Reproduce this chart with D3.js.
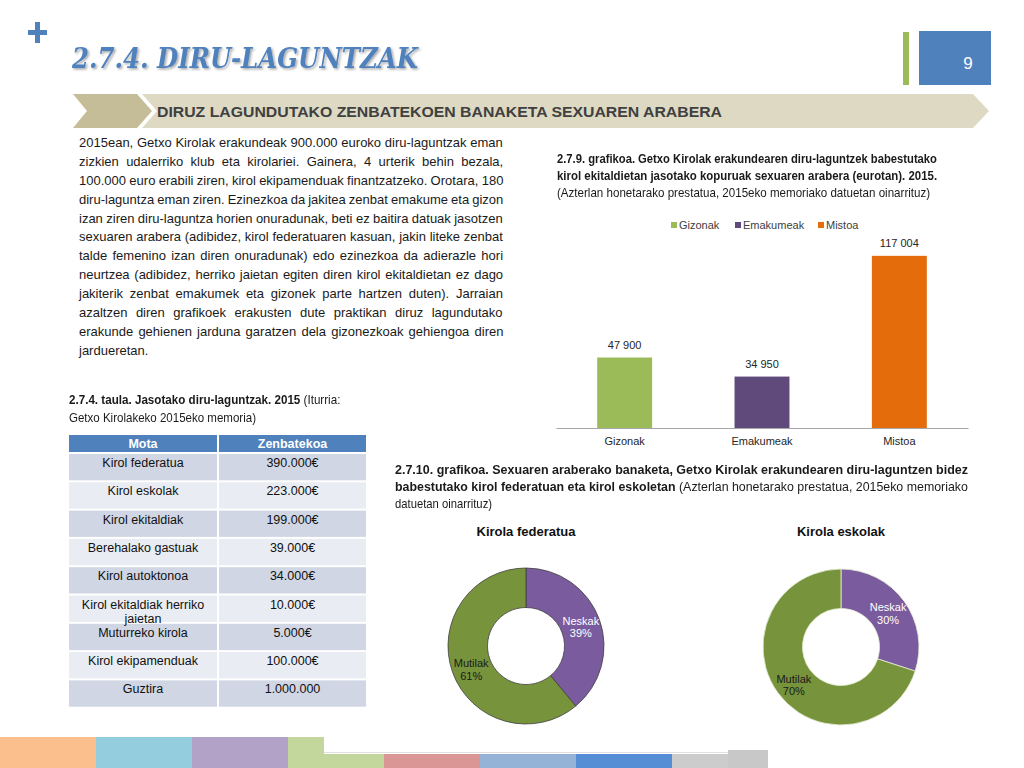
<!DOCTYPE html>
<html>
<head>
<meta charset="utf-8">
<script src="https://cdn.jsdelivr.net/npm/d3@7"></script>
<style>
  html, body { margin: 0; padding: 0; background: #fff; }
  #page { position: relative; width: 1024px; height: 768px; overflow: hidden; }
  svg { position: absolute; left: 0; top: 0; }
  .block { position: absolute; color: #1a1a1a; font-family: "Liberation Sans", Arial, sans-serif; }
  .line { white-space: nowrap; height: 1em; }
  .line span { display: inline-block; white-space: nowrap; transform-origin: 0 0; }
  .para { font-size: 13px; line-height: 18.9px; }
  .para .line { height: 18.9px; }
  .cap { font-size: 13px; line-height: 16.8px; }
  .cap .line { height: 16.8px; }
  b { font-weight: bold; }
</style>
</head>
<body>
<div id="page"></div>
<script>
// ---------- data ----------
const pageNumber = "9";
const titleText = "2.7.4. DIRU-LAGUNTZAK";
const bandText = "DIRUZ LAGUNDUTAKO ZENBATEKOEN BANAKETA SEXUAREN ARABERA";

const paragraphLines = [
  "2015ean, Getxo Kirolak erakundeak 900.000 euroko diru-laguntzak eman",
  "zizkien udalerriko klub eta kirolariei. Gainera, 4 urterik behin bezala,",
  "100.000 euro erabili ziren, kirol ekipamenduak finantzatzeko. Orotara, 180",
  "diru-laguntza eman ziren. Ezinezkoa da jakitea zenbat emakume eta gizon",
  "izan ziren diru-laguntza horien onuradunak, beti ez baitira datuak jasotzen",
  "sexuaren arabera (adibidez, kirol federatuaren kasuan, jakin liteke zenbat",
  "talde femenino izan diren onuradunak) edo ezinezkoa da adierazle hori",
  "neurtzea (adibidez, herriko jaietan egiten diren kirol ekitaldietan ez dago",
  "jakiterik zenbat emakumek eta gizonek parte hartzen duten). Jarraian",
  "azaltzen diren grafikoek erakusten dute praktikan diruz lagundutako",
  "erakunde gehienen jarduna garatzen dela gizonezkoak gehiengoa diren",
  "jardueretan."
];

const barCaptionLines = [
  "<b>2.7.9. grafikoa. Getxo Kirolak erakundearen diru-laguntzek babestutako</b>",
  "<b>kirol ekitaldietan jasotako kopuruak sexuaren arabera (eurotan). 2015.</b>",
  "(Azterlan honetarako prestatua, 2015eko memoriako datuetan oinarrituz)"
];
const barCaptionWidths = [380, 380, 373];
const donutCaptionLines = [
  "<b>2.7.10. grafikoa. Sexuaren araberako banaketa, Getxo Kirolak erakundearen diru-laguntzen bidez</b>",
  "<b>babestutako kirol federatuan eta kirol eskoletan</b> (Azterlan honetarako prestatua, 2015eko memoriako",
  "datuetan oinarrituz)"
];
const donutCaptionWidths = [573, 573, 97];
const tableCaptionLines = [
  "<b>2.7.4. taula. Jasotako diru-laguntzak. 2015</b> (Iturria:",
  "Getxo Kirolakeko 2015eko memoria)"
];
const tableCaptionWidths = [271, 187];

const barCategories = ["Gizonak", "Emakumeak", "Mistoa"];
const barValues = [47900, 34950, 117004];
const barValueLabels = ["47 900", "34 950", "117 004"];
const barColors = ["#9BBB59", "#604A7B", "#E46C0A"];

const tableHeaders = ["Mota", "Zenbatekoa"];
const tableTypes = ["Kirol federatua", "Kirol eskolak", "Kirol ekitaldiak", "Berehalako gastuak",
  "Kirol autoktonoa", "Kirol ekitaldiak herriko\njaietan", "Muturreko kirola", "Kirol ekipamenduak", "Guztira"];
const tableAmounts = ["390.000€", "223.000€", "199.000€", "39.000€", "34.000€", "10.000€", "5.000€", "100.000€", "1.000.000"];

const donutTitles = ["Kirola federatua", "Kirola eskolak"];
const donutGroups = ["Neskak", "Mutilak"];
const federatuaShares = [39, 61];
const eskolakShares = [30, 70];
const donutColors = ["#7A5C9E", "#77933C"];
const donutLabelColors = ["#ffffff", "#1a1a1a"];

const stripColors = ["#FBBF8E", "#94CDDD", "#B3A2C7", "#C3D69B", "#C3D69B", "#D99694", "#95B3D7", "#558ED5", "#CCCCCC", "#C8C8C8"];

// ---------- page ----------
const page = d3.select("#page");
const svg = page.append("svg").attr("width", 1024).attr("height", 768);

// plus sign
svg.append("rect").attr("x", 28).attr("y", 30).attr("width", 19).attr("height", 5).attr("fill", "#4F81BD");
svg.append("rect").attr("x", 35).attr("y", 22).attr("width", 5).attr("height", 21).attr("fill", "#4F81BD");

// title with shadow
const defs = svg.append("defs");
const f = defs.append("filter").attr("id", "shadow").attr("x", "-5%").attr("y", "-20%").attr("width", "110%").attr("height", "150%");
f.append("feDropShadow").attr("dx", 1.5).attr("dy", 1.5).attr("stdDeviation", 0.8).attr("flood-color", "#000").attr("flood-opacity", 0.35);
svg.append("text").attr("x", 72).attr("y", 68)
  .attr("font-family", "DejaVu Serif, serif").attr("font-weight", "bold").attr("font-style", "italic")
  .attr("font-size", 28).attr("fill", "#4F81BD").attr("filter", "url(#shadow)")
  .attr("textLength", 346).attr("lengthAdjust", "spacingAndGlyphs")
  .text(titleText);

// page number box
svg.append("rect").attr("x", 903).attr("y", 32).attr("width", 6).attr("height", 53).attr("fill", "#9BBB59");
svg.append("rect").attr("x", 919).attr("y", 31).attr("width", 72).attr("height", 54).attr("fill", "#4F81BD");
svg.append("text").attr("x", 968).attr("y", 69).attr("text-anchor", "middle")
  .attr("font-family", "Liberation Sans, Arial, sans-serif").attr("font-size", 17).attr("fill", "#fff").text(pageNumber);

// band
svg.append("polygon").attr("points", "142,94 973,94 989,111 973,128 142,128 157,111").attr("fill", "#DDD9C3");
svg.append("polygon").attr("points", "73,94 137,94 152,111 137,128 73,128 87,111").attr("fill", "#C4BD97");
svg.append("text").attr("x", 157).attr("y", 116.5)
  .attr("font-family", "Liberation Sans, Arial, sans-serif").attr("font-weight", "bold").attr("font-size", 15)
  .attr("textLength", 565).attr("lengthAdjust", "spacingAndGlyphs")
  .attr("fill", "#404040").text(bandText);

// ---------- text blocks ----------
function textBlock(cls, left, top, lines, html) {
  const div = page.append("div").attr("class", "block " + cls)
    .style("left", left + "px").style("top", top + "px");
  const spans = div.selectAll("div.line").data(lines).join("div").attr("class", "line")
    .append("span").each(function(d) { if (html) d3.select(this).html(d); else d3.select(this).text(d); });
  return spans;
}
// paragraph: justified through word spacing
const paraSpans = textBlock("para", 79, 134, paragraphLines, false);
paraSpans.each(function(d, i) {
  if (i === paragraphLines.length - 1) return;
  const w = this.offsetWidth;
  const spaces = (d.match(/ /g) || []).length;
  d3.select(this).style("word-spacing", ((424 - w) / spaces) + "px");
});
// captions: each line fitted to the width it has in the picture
function fitLines(spans, widths) {
  spans.each(function(d, i) {
    const w = this.offsetWidth;
    d3.select(this).style("transform", "scaleX(" + (widths[i] / w) + ")");
  });
}
fitLines(textBlock("cap", 557, 151, barCaptionLines, true), barCaptionWidths);
fitLines(textBlock("cap", 395, 462, donutCaptionLines, true), donutCaptionWidths);
const tcs = textBlock("cap", 69, 392, tableCaptionLines, true);
tcs.each(function() { this.parentNode.style.height = "18px"; });
fitLines(tcs, tableCaptionWidths);

// ---------- bar chart ----------
const x = d3.scaleBand().domain(barCategories).range([556, 968]).paddingInner(0.6).paddingOuter(0.3);
const y = d3.scaleLinear().domain([0, 140000]).range([428, 222]);
const gBar = svg.append("g");
gBar.selectAll("rect.bar").data(barValues).join("rect").attr("class", "bar")
  .attr("x", (d, i) => x(barCategories[i])).attr("width", x.bandwidth())
  .attr("y", d => y(d)).attr("height", d => y(0) - y(d))
  .attr("fill", (d, i) => barColors[i]);
gBar.selectAll("text.val").data(barValues).join("text").attr("class", "val")
  .attr("x", (d, i) => x(barCategories[i]) + x.bandwidth() / 2).attr("y", d => y(d) - 9)
  .attr("text-anchor", "middle").attr("font-family", "Liberation Sans, Arial, sans-serif")
  .attr("font-size", 11).attr("fill", "#262626").text((d, i) => barValueLabels[i]);
const xAxis = d3.axisBottom(x).tickSize(0).tickPadding(9);
const ax = gBar.append("g").attr("transform", "translate(0," + y(0) + ")").call(xAxis);
ax.select(".domain").attr("stroke", "#A6A6A6").attr("stroke-width", 1.2);
ax.selectAll("text").attr("font-family", "Liberation Sans, Arial, sans-serif").attr("font-size", 11).attr("fill", "#262626");

// legend
const legendX = [671, 735, 818];
const lg = gBar.selectAll("g.leg").data(barCategories).join("g").attr("class", "leg")
  .attr("transform", (d, i) => "translate(" + legendX[i] + ",222)");
lg.append("rect").attr("width", 6).attr("height", 6).attr("y", 0).attr("fill", (d, i) => barColors[i]);
lg.append("text").attr("x", 8).attr("y", 7).attr("font-family", "Liberation Sans, Arial, sans-serif")
  .attr("font-size", 11).attr("fill", "#404040").text(d => d);

// ---------- table ----------
const tX = [69, 219], tW = [148, 147];
const rowH = 28.3, headTop = 435, headH = 17;
const gT = svg.append("g").attr("font-family", "Liberation Sans, Arial, sans-serif");
tableHeaders.forEach((h, j) => {
  gT.append("rect").attr("x", tX[j]).attr("y", headTop).attr("width", tW[j]).attr("height", headH).attr("fill", "#4F81BD");
  gT.append("text").attr("x", tX[j] + tW[j] / 2).attr("y", headTop + 13).attr("text-anchor", "middle")
    .attr("font-weight", "bold").attr("font-size", 12.5).attr("fill", "#fff").text(h);
});
const rowTop = i => headTop + headH + 2 + i * rowH;
tableTypes.forEach((t, i) => {
  const cells = [t, tableAmounts[i]];
  cells.forEach((c, j) => {
    gT.append("rect").attr("x", tX[j]).attr("y", rowTop(i)).attr("width", tW[j]).attr("height", rowH - 2)
      .attr("fill", i % 2 === 0 ? "#D0D6E4" : "#E9ECF3");
  });
});
tableTypes.forEach((t, i) => {
  const cells = [t, tableAmounts[i]];
  cells.forEach((c, j) => {
    c.split("\n").forEach((p, k) => {
      gT.append("text").attr("x", tX[j] + tW[j] / 2).attr("y", rowTop(i) + 13 + k * 14.5)
        .attr("text-anchor", "middle").attr("font-size", 12.5).attr("fill", "#111").text(p);
    });
  });
});

// ---------- donuts ----------
const donutCenters = [[526, 646], [841, 647]];
const donutStrokes = ["#404040", "#E6EED5"];
[federatuaShares, eskolakShares].forEach((shares, k) => {
  const [cx, cy] = donutCenters[k];
  const g = svg.append("g").attr("transform", "translate(" + cx + "," + cy + ")");
  svg.append("text").attr("x", cx).attr("y", 536).attr("text-anchor", "middle")
    .attr("font-family", "Liberation Sans, Arial, sans-serif").attr("font-weight", "bold")
    .attr("font-size", 13).attr("fill", "#111").text(donutTitles[k]);
  const pie = d3.pie().sort(null).value(d => d)(shares);
  const arc = d3.arc().innerRadius(38.5).outerRadius(78);
  g.selectAll("path").data(pie).join("path").attr("d", arc)
    .attr("fill", (d, i) => donutColors[i]).attr("stroke", donutStrokes[k]).attr("stroke-width", 0.8);
  g.selectAll("text").data(pie).join("text")
    .attr("transform", (d, i) => { const c = arc.centroid(d); return "translate(" + c[0] + "," + (c[1] + (i === 1 ? 3 : 0)) + ")"; })
    .attr("text-anchor", "middle").attr("font-family", "Liberation Sans, Arial, sans-serif")
    .attr("font-size", 11).attr("fill", (d, i) => donutLabelColors[i])
    .each(function(d, i) {
      const t = d3.select(this);
      t.append("tspan").attr("x", 0).attr("dy", "-0.15em").text(donutGroups[i]);
      t.append("tspan").attr("x", 0).attr("dy", "1.15em").text(d.data + "%");
    });
});

// ---------- bottom strip ----------
const stripX = [0, 96, 192, 288, 324, 384, 480, 576, 672, 728];
const stripW = [96, 96, 96, 36, 60, 96, 96, 96, 56, 40];
const stripTop = [737, 737, 737, 737, 754, 754, 754, 754, 754, 750];
svg.append("line").attr("x1", 324).attr("x2", 744).attr("y1", 752.5).attr("y2", 752.5).attr("stroke", "#e0e0e0").attr("stroke-width", 1);
svg.selectAll("rect.strip").data(stripColors).join("rect").attr("class", "strip")
  .attr("x", (d, i) => stripX[i]).attr("y", (d, i) => stripTop[i])
  .attr("width", (d, i) => stripW[i]).attr("height", (d, i) => 768 - stripTop[i]).attr("fill", d => d);
</script>
</body>
</html>
